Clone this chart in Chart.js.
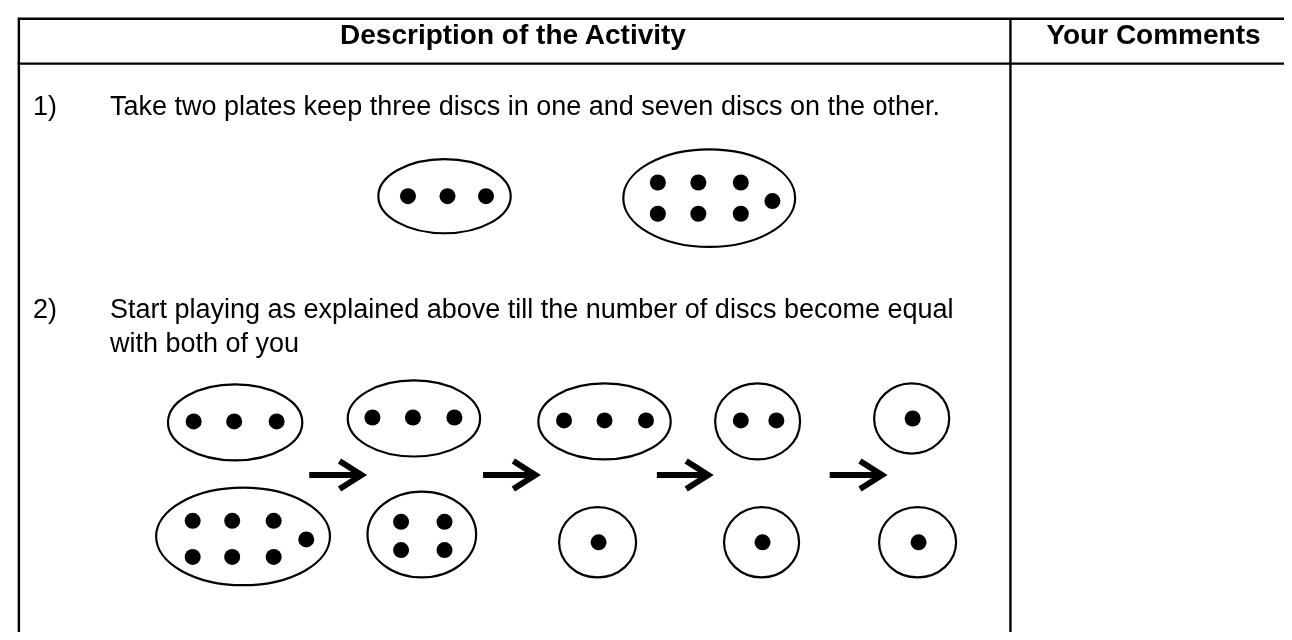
<!DOCTYPE html>
<html>
<head>
<meta charset="utf-8">
<script src="https://cdn.jsdelivr.net/npm/chart.js@4.4.0/dist/chart.umd.min.js"></script>
<style>
  html, body { margin: 0; padding: 0; background: #fff; }
  #wrap { position: relative; width: 1292px; height: 640px; overflow: hidden;
          font-family: "Liberation Sans", Arial, sans-serif; color: #000; }
  #sheet { position: absolute; left: 0; top: 0; }
  .head { position: absolute; white-space: nowrap; font-size: 28px; font-weight: bold;
          line-height: 46px; text-align: center; }
  .txt { position: absolute; white-space: nowrap; font-size: 27px; line-height: 34px; }
</style>
</head>
<body>
<div id="wrap">
  <canvas id="sheet" width="1292" height="640"></canvas>
</div>
<script>
// text of the worksheet
const headerLabels = ["Description of the Activity", "Your Comments"];
const stepNumbers = ["1)", "2)"];
const stepLines = [
    ["Take two plates keep three discs in one and seven discs on the other."],
    ["Start playing as explained above till the number of discs become equal", "with both of you"],
];

// table rules (sheet units)
const ruleRowsY = [11, 57];
const ruleColsX = [11, 1015];

// plates: centre and half width / half height
const plateX = [442, 710, 230, 238, 411, 419, 604, 597, 759, 763, 915, 921];
const plateY = [193, 195, 425, 542, 421, 540, 424, 548, 424, 548, 421, 548];
const plateW = [67, 87, 68, 88, 67, 55, 67, 39, 43, 38, 38, 39];
const plateH = [38, 50, 39, 50, 39, 44, 39, 36, 39, 36, 36, 36];

// discs
const discX = [405, 445, 484,
    658, 699, 742, 658, 699, 742, 774,
    188, 229, 272,
    187, 227, 269, 187, 227, 269, 302,
    369, 410, 452,
    398, 442, 398, 442,
    563, 604, 646,
    598,
    742, 778,
    764,
    916,
    922];
const discY = [193, 193, 193,
    179, 179, 179, 211, 211, 211, 198,
    424, 424, 424,
    526, 526, 526, 563, 563, 563, 545,
    420, 420, 420,
    527, 527, 556, 556,
    423, 423, 423,
    548,
    423, 423,
    548,
    421,
    548];

// arrows between the steps
const arrowStartX = [305, 481, 657, 832];
const arrowEndX = [362, 538, 713, 889];
const arrowY = [479, 479, 479, 479];

const sheetPlugin = {
    id: "sheet",
    beforeDatasetsDraw(chart) {
        const { ctx, scales: { x, y } } = chart;
        ctx.save();
        ctx.strokeStyle = "#000";

        // table lines
        ctx.lineWidth = 2.4;
        ruleRowsY.forEach((v) => {
            ctx.beginPath();
            ctx.moveTo(x.getPixelForValue(ruleColsX[0]) - 1.2, y.getPixelForValue(v));
            ctx.lineTo(x.getPixelForValue(x.max), y.getPixelForValue(v));
            ctx.stroke();
        });
        ruleColsX.forEach((v) => {
            ctx.beginPath();
            ctx.moveTo(x.getPixelForValue(v), y.getPixelForValue(ruleRowsY[0]));
            ctx.lineTo(x.getPixelForValue(v), y.getPixelForValue(y.max));
            ctx.stroke();
        });

        // plates
        ctx.lineWidth = 2.2;
        plateX.forEach((cx, i) => {
            const px = x.getPixelForValue(cx);
            const py = y.getPixelForValue(plateY[i]);
            const rx = Math.abs(x.getPixelForValue(cx + plateW[i]) - px);
            const ry = Math.abs(y.getPixelForValue(plateY[i] + plateH[i]) - py);
            ctx.beginPath();
            ctx.ellipse(px, py, rx, ry, 0, 0, Math.PI * 2);
            ctx.stroke();
        });

        // arrows
        ctx.lineWidth = 6;
        ctx.lineJoin = "miter";
        arrowStartX.forEach((sx, i) => {
            const x0 = x.getPixelForValue(sx);
            const x1 = x.getPixelForValue(arrowEndX[i]);
            const ay = y.getPixelForValue(arrowY[i]);
            ctx.beginPath();
            ctx.moveTo(x0, ay);
            ctx.lineTo(x1 - 5, ay);
            ctx.stroke();
            ctx.beginPath();
            ctx.moveTo(x1 - 26, ay - 14);
            ctx.lineTo(x1 - 4, ay);
            ctx.lineTo(x1 - 26, ay + 14);
            ctx.stroke();
        });
        ctx.restore();
    },
};

const canvas = document.getElementById("sheet");
const ctx = canvas.getContext("2d");

new Chart(ctx, {
    type: "scatter",
    data: {
        datasets: [
            {
                label: "discs",
                data: discX.map((v, i) => ({ x: v, y: discY[i] })),
                backgroundColor: "#000",
                borderWidth: 0,
                pointRadius: 8,
                pointHoverRadius: 8,
            },
        ],
    },
    options: {
        responsive: false,
        animation: false,
        devicePixelRatio: 1,
        events: [],
        layout: { padding: 0 },
        scales: {
            x: { type: "linear", min: 0, max: 1292, display: false },
            y: { type: "linear", min: 0, max: 640, reverse: true, display: false },
        },
        plugins: {
            legend: { display: false },
            tooltip: { enabled: false },
        },
    },
    plugins: [sheetPlugin],
});

// text layer
const wrap = document.getElementById("wrap");
function addText(cls, text, left, top, width) {
    const el = document.createElement("div");
    el.className = cls;
    el.textContent = text;
    el.style.left = left + "px";
    el.style.top = top + "px";
    if (width) el.style.width = width + "px";
    wrap.appendChild(el);
}

addText("head", headerLabels[0], 11, 12, 1004);
addText("head", headerLabels[1], 1015, 12, 277);

const stepTops = [89, 292];
stepNumbers.forEach((num, i) => {
    addText("txt", num, 33, stepTops[i]);
    stepLines[i].forEach((line, j) => {
        addText("txt", line, 110, stepTops[i] + j * 34);
    });
});
</script>
</body>
</html>
